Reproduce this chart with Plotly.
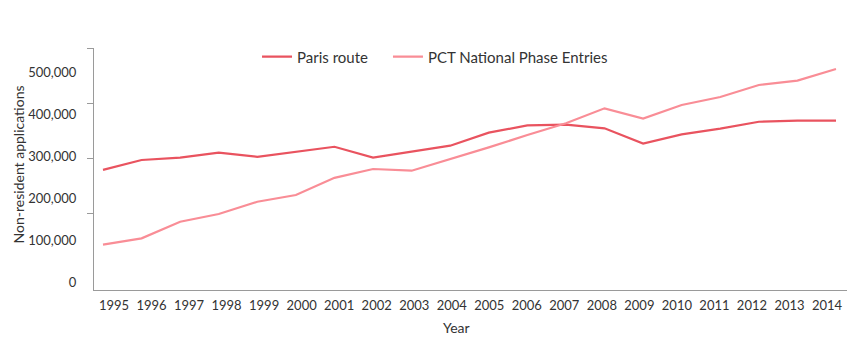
import plotly.graph_objects as go

years = list(range(1995, 2015))
paris_route = [267000, 290500, 296000, 308000, 298000, 310000, 322000, 296000, 310000, 324500,
               355500, 373000, 374500, 366000, 329500, 351500, 365000, 381500, 384000, 384000]
pct_entries = [89000, 104000, 143500, 162000, 191000, 207000, 248000, 269000, 265000, 292000,
               320500, 350000, 378000, 413500, 389000, 421500, 440500, 469000, 479500, 507000]
ytick_vals = [0, 100000, 200000, 300000, 400000, 500000]
ytick_text = ["0", "100,000", "200,000", "300,000", "400,000", "500,000"]

PARIS_COLOR = "#E9535F"
PCT_COLOR = "#F98D96"
TEXT = "#333333"
AXIS = "#9a9a9a"
FONT = "Lato"

fig = go.Figure()
fig.add_trace(go.Scatter(x=years, y=paris_route, mode="lines", name="Paris route",
                         line=dict(color=PARIS_COLOR, width=2.2), legend="legend"))
fig.add_trace(go.Scatter(x=years, y=pct_entries, mode="lines", name="PCT National Phase Entries",
                         line=dict(color=PCT_COLOR, width=2.2), legend="legend2"))
# invisible helper trace for the decorative axes
fig.add_trace(go.Scatter(x=[years[0]], y=[0], xaxis="x2", yaxis="y2", mode="markers",
                         marker=dict(opacity=0), showlegend=False, hoverinfo="skip"))

leg_common = dict(orientation="h", xanchor="left", y=0.963, yanchor="middle",
                  font=dict(size=15, color=TEXT), bgcolor="rgba(0,0,0,0)")

# page body has an 8px default margin, so the figure is sized/offset accordingly
fig.update_layout(
    width=847, height=348,
    margin=dict(l=86, r=8, t=40, b=66, autoexpand=False),
    paper_bgcolor="white", plot_bgcolor="white",
    font=dict(family=FONT, color=TEXT, size=13),
    showlegend=True,
    legend=dict(x=0.2165, **leg_common),
    legend2=dict(x=0.3904, **leg_common),
    xaxis=dict(range=[1994.767, 2014.285], showgrid=False, zeroline=False,
               showline=True, linecolor=AXIS, linewidth=1, ticks="",
               showticklabels=False, automargin=False),
    xaxis2=dict(range=[1994.467, 2014.533], overlaying="x", anchor="y", side="bottom",
                showgrid=False, zeroline=False, showline=False, ticks="",
                tickmode="array", tickvals=years, ticktext=[str(y) for y in years],
                tickfont=dict(size=13, color=TEXT), ticklabelstandoff=6, automargin=False),
    yaxis=dict(range=[-19048, 557143], showgrid=False, zeroline=False,
               showline=True, linecolor=AXIS, linewidth=1, ticks="",
               tickmode="array", tickvals=ytick_vals, ticktext=ytick_text,
               tickfont=dict(size=13, color=TEXT), ticklabelstandoff=14, automargin=False),
    yaxis2=dict(range=[0, 242], overlaying="y", anchor="x", side="left",
                showgrid=False, zeroline=False, showline=False,
                ticks="outside", ticklen=6, tickcolor=AXIS, tickwidth=1,
                tickmode="array", tickvals=[77, 132, 187, 242], showticklabels=False,
                automargin=False),
    annotations=[
        dict(text="Year", xref="paper", yref="paper", x=0.482, y=-0.153,
             showarrow=False, font=dict(size=14, color=TEXT), xanchor="center", yanchor="middle"),
        dict(text="Non-resident applications", xref="paper", yref="paper", x=-0.1142, y=0.517,
             showarrow=False, textangle=-90, font=dict(size=14, color=TEXT),
             xanchor="left", yanchor="middle"),
    ],
)

fig.write_html("out.html")
